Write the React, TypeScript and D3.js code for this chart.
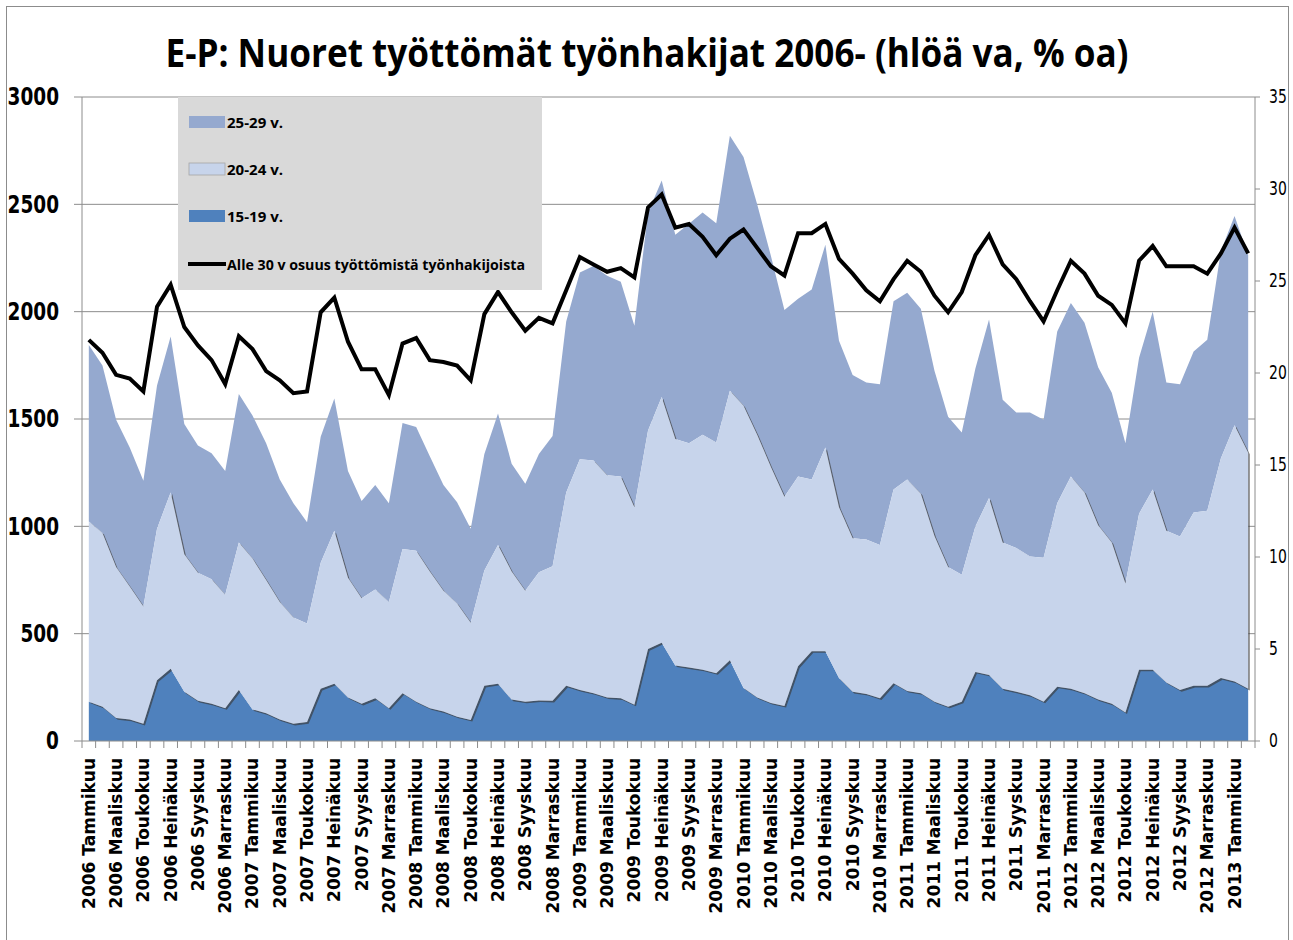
import React from "react";
import * as d3 from "d3";

const MONTHS = ["Tammikuu", "Helmikuu", "Maaliskuu", "Huhtikuu", "Toukokuu", "Kesäkuu", "Heinäkuu", "Elokuu", "Syyskuu", "Lokakuu", "Marraskuu", "Joulukuu"];
const YEARS = [2006, 2007, 2008, 2009, 2010, 2011, 2012, 2013];
const CATEGORIES: string[] = YEARS.flatMap((y) => MONTHS.map((m) => `${y} ${m}`)).slice(0, 86);

const AGE_15_19 = [
  183, 159, 107, 100, 80, 283, 336, 229, 187, 173, 153, 237,
  147, 129, 100, 80, 88, 243, 267, 203, 173, 199, 153, 223,
  183, 153, 137, 113, 98, 257, 267, 193, 183, 189, 187, 257,
  237, 223, 203, 199, 169, 428, 458, 352, 342, 332, 316, 376,
  247, 203, 177, 163, 348, 418, 418, 293, 229, 219, 199, 269,
  233, 223, 183, 160, 183, 322, 308, 243, 229, 213, 183, 253,
  243, 223, 193, 173, 133, 332, 332, 273, 237, 257, 257, 293,
  277, 243,
];
const AGE_20_24 = [
  840, 810, 703, 620, 547, 706, 822, 641, 597, 581, 528, 688,
  703, 621, 547, 495, 459, 587, 712, 557, 492, 507, 494, 671,
  703, 637, 563, 528, 453, 537, 646, 597, 517, 597, 627, 901,
  1076, 1084, 1035, 1033, 920, 1019, 1144, 1055, 1045, 1095, 1075, 1256,
  1315, 1224, 1101, 975, 884, 800, 949, 796, 716, 720, 714, 903,
  985, 929, 772, 650, 591, 677, 824, 682, 670, 647, 671, 855,
  989, 935, 812, 752, 601, 727, 840, 706, 716, 808, 816, 1024,
  1194, 1100,
];
const AGE_25_29 = [
  822, 780, 686, 647, 585, 667, 726, 607, 593, 587, 577, 691,
  666, 637, 571, 533, 472, 587, 617, 498, 453, 486, 461, 587,
  577, 537, 492, 471, 438, 543, 613, 502, 498, 551, 607, 796,
  870, 906, 929, 907, 845, 1015, 1009, 951, 1023, 1035, 1021, 1188,
  1158, 1073, 984, 870, 828, 885, 945, 776, 760, 731, 749, 876,
  870, 862, 770, 700, 663, 736, 832, 665, 631, 670, 642, 800,
  808, 790, 736, 697, 653, 726, 828, 691, 709, 750, 796, 966,
  975, 920,
];
const SHARE_UNDER_30 = [
  21.8, 21.1, 19.9, 19.7, 19.0, 23.6, 24.8, 22.5, 21.5, 20.7, 19.4, 22.0,
  21.3, 20.1, 19.6, 18.9, 19.0, 23.3, 24.1, 21.7, 20.2, 20.2, 18.8, 21.6,
  21.9, 20.7, 20.6, 20.4, 19.6, 23.2, 24.4, 23.3, 22.3, 23.0, 22.7, 24.5,
  26.3, 25.9, 25.5, 25.7, 25.2, 29.0, 29.7, 27.9, 28.1, 27.4, 26.4, 27.3,
  27.8, 26.8, 25.8, 25.3, 27.6, 27.6, 28.1, 26.2, 25.4, 24.5, 23.9, 25.1,
  26.1, 25.5, 24.2, 23.3, 24.4, 26.4, 27.5, 25.9, 25.1, 23.9, 22.8, 24.5,
  26.1, 25.4, 24.2, 23.7, 22.7, 26.1, 26.9, 25.8, 25.8, 25.8, 25.4, 26.5,
  27.9, 26.5,
];

const LEFT_TICKS = [0, 500, 1000, 1500, 2000, 2500, 3000];
const RIGHT_TICKS = [0, 5, 10, 15, 20, 25, 30, 35];

const SERIES_KEYS = ["a1519", "a2024", "a2529"];
const SERIES_LABELS = ["15-19 v.", "20-24 v.", "25-29 v."];
const SERIES_COLORS = ["#4f81bd", "#c7d4eb", "#95a9cf"];
const LINE_LABEL = "Alle 30 v osuus työttömistä työnhakijoista";
const TITLE = "E-P: Nuoret työttömät työnhakijat 2006- (hlöä va, % oa)";

export default function App() {
  const W = 1293, H = 940;
  const left = 82, right = 1255, top = 97, bottom = 741;

  const x = d3.scaleBand<number>().domain(CATEGORIES.map((_, i) => i)).range([left, right]).padding(0);
  const bw = x.bandwidth();
  const cx = (i: number) => (x(i) as number) + bw / 2;
  const y = d3.scaleLinear().domain([0, 3000]).range([bottom, top]);
  const y2 = d3.scaleLinear().domain([0, 35]).range([bottom, top]);

  const rows = CATEGORIES.map((_, i) => ({
    i,
    a1519: AGE_15_19[i],
    a2024: AGE_20_24[i],
    a2529: AGE_25_29[i],
  }));
  const stacked = d3.stack<any>().keys(SERIES_KEYS)(rows);
  const area = d3
    .area<any>()
    .x((d) => cx(d.data.i))
    .y0((d) => y(d[0]))
    .y1((d) => y(d[1]))
    .curve(d3.curveLinear);
  const line = d3
    .line<number>()
    .x((_, i) => cx(i))
    .y((d) => y2(d))
    .curve(d3.curveLinear);

  const boundaries = d3.range(CATEGORIES.length + 1).map((k) => left + k * bw);
  const axisFont = "'DejaVu Sans', Verdana, sans-serif";
  const narrowFont = "'Open Sans', 'Liberation Sans', Arial, sans-serif";

  const legendItems = [
    { label: SERIES_LABELS[2], color: SERIES_COLORS[2], y: 122, len: 56 },
    { label: SERIES_LABELS[1], color: SERIES_COLORS[1], y: 169, len: 56 },
    { label: SERIES_LABELS[0], color: SERIES_COLORS[0], y: 216, len: 56 },
  ];

  return (
    <svg width={W} height={H} style={{ position: "absolute", left: 0, top: 0, background: "#fff" }}>
      <defs>
        <filter id="shadowBlur" x="-5%" y="-5%" width="110%" height="110%">
          <feGaussianBlur stdDeviation="0.6" />
        </filter>
      </defs>
      <rect x={0} y={0} width={W} height={H} fill="#fff" />
      <rect x={6.5} y={6.5} width={1282} height={960} fill="none" stroke="#8c8c8c" strokeWidth={1} />

      {/* Title */}
      <text
        x={647}
        y={67}
        textAnchor="middle"
        fontFamily={narrowFont}
        fontWeight="bold"
        fontSize={40}
        textLength={963}
        lengthAdjust="spacingAndGlyphs"
        fill="#000"
      >
        {TITLE}
      </text>

      {/* Gridlines */}
      {LEFT_TICKS.filter((t) => t > 0).map((t) => (
        <line key={"g" + t} x1={left} x2={right} y1={y(t)} y2={y(t)} stroke="#8c8c8c" strokeWidth={1} />
      ))}

      {/* Areas: 25-29, 15-19, shadow of 20-24, 20-24 */}
      <path d={area(stacked[2]) as string} fill={SERIES_COLORS[2]} />
      <path d={area(stacked[0]) as string} fill={SERIES_COLORS[0]} />
      <path
        d={area(stacked[1]) as string}
        fill="#3a3a3a"
        opacity={0.65}
        transform="translate(1.6,1.6)"
        filter="url(#shadowBlur)"
      />
      <path d={area(stacked[1]) as string} fill={SERIES_COLORS[1]} />

      {/* Axes */}
      <line x1={left} x2={left} y1={top} y2={bottom} stroke="#8c8c8c" />
      <line x1={right} x2={right} y1={top} y2={bottom} stroke="#8c8c8c" />
      <line x1={left} x2={right} y1={bottom} y2={bottom} stroke="#8c8c8c" />
      {LEFT_TICKS.map((t) => (
        <g key={"l" + t}>
          <line x1={left - 8} x2={left} y1={y(t)} y2={y(t)} stroke="#8c8c8c" />
          <text
            transform={`translate(59,${y(t)}) scale(1,1.32)`}
            textAnchor="end"
            dominantBaseline="central"
            fontFamily={axisFont}
            fontWeight="bold"
            fontSize={18.5}
            fill="#000"
          >
            {t}
          </text>
        </g>
      ))}
      {RIGHT_TICKS.map((t) => (
        <g key={"r" + t}>
          <line x1={right} x2={right + 5} y1={y2(t)} y2={y2(t)} stroke="#8c8c8c" />
          <text
            transform={`translate(1269,${y2(t)}) scale(1,1.35)`}
            textAnchor="start"
            dominantBaseline="central"
            fontFamily={axisFont}
            fontSize={14}
            fill="#000"
          >
            {t}
          </text>
        </g>
      ))}
      {boundaries.map((bx, k) => (
        <line key={"t" + k} x1={bx} x2={bx} y1={bottom} y2={bottom + 7} stroke="#8c8c8c" />
      ))}
      {CATEGORIES.map((c, i) =>
        i % 2 === 0 ? (
          <text
            key={"c" + i}
            transform={`translate(${cx(i)},${bottom + 17}) rotate(-90)`}
            textAnchor="end"
            dominantBaseline="central"
            fontFamily={axisFont}
            fontWeight="bold"
            fontSize={17}
            fill="#000"
          >
            {c}
          </text>
        ) : null
      )}

      {/* Share line */}
      <path d={line(SHARE_UNDER_30) as string} fill="none" stroke="#000" strokeWidth={4} strokeLinejoin="miter" />

      {/* Legend */}
      <rect x={178} y={97} width={364} height={193} fill="#d9d9d9" />
      {legendItems.map((it) => (
        <g key={it.label}>
          <rect
            x={189}
            y={it.y - 6}
            width={36}
            height={12}
            fill={it.color}
            stroke={it.label === SERIES_LABELS[1] ? "#a6a6a6" : "none"}
            strokeWidth={0.8}
          />
          <text
            x={227}
            y={it.y}
            dominantBaseline="central"
            fontFamily={narrowFont}
            fontWeight="bold"
            fontSize={15}
            textLength={it.len}
            lengthAdjust="spacingAndGlyphs"
            fill="#000"
          >
            {it.label}
          </text>
        </g>
      ))}
      <line x1={188} x2={226} y1={264} y2={264} stroke="#000" strokeWidth={4} />
      <text
        x={227}
        y={264}
        dominantBaseline="central"
        fontFamily={narrowFont}
        fontWeight="bold"
        fontSize={15}
        textLength={298}
        lengthAdjust="spacingAndGlyphs"
        fill="#000"
      >
        {LINE_LABEL}
      </text>
    </svg>
  );
}
